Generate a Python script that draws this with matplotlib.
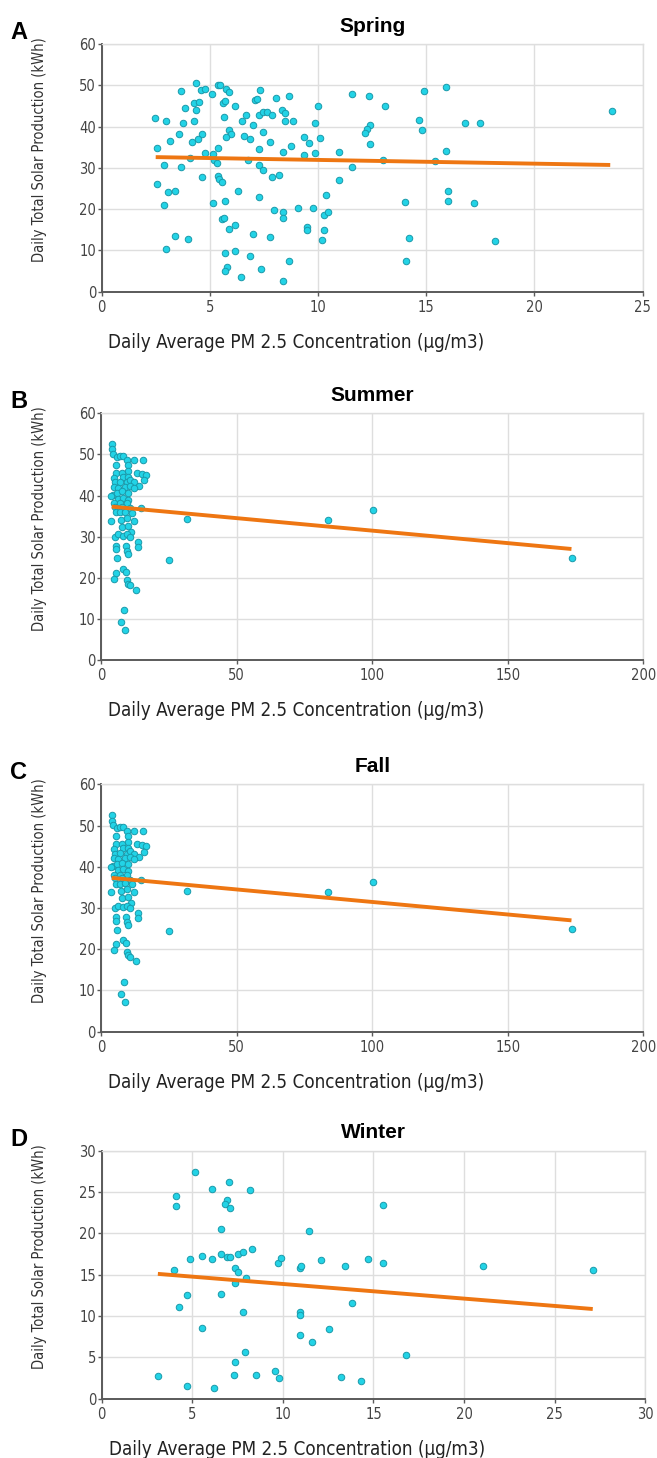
import matplotlib
matplotlib.use("Agg")
from matplotlib import pyplot as plt

# spring: PM2.5 (ug/m3) vs solar production (kWh)
springPm = [
    4.36, 3.67, 4.59, 4.80, 5.08, 5.39, 5.48, 5.77, 5.88, 7.34,
    5.62, 5.68, 4.26, 4.48, 3.86, 4.36, 6.17, 7.08, 7.17, 2.47,
    2.96, 3.77, 4.26, 5.67, 6.48, 6.67, 6.99, 7.27, 7.46, 7.66,
    5.88, 5.98, 5.77, 3.57, 4.65, 4.46, 4.16, 3.17, 2.56, 6.57,
    6.86, 7.48, 5.37, 7.27, 4.77, 5.16, 4.07, 5.20, 5.33, 6.77,
    2.86, 3.67, 7.27, 7.48, 4.66, 5.37, 5.43, 5.57, 2.56, 6.30,
    3.08, 3.37, 7.27, 2.86, 5.16, 5.68, 5.57, 5.67, 5.88, 6.17,
    6.99, 3.37, 3.97, 2.96, 5.68, 6.17, 6.86, 5.79, 5.68, 7.37,
    6.46,
    8.05, 8.68, 7.85, 8.35, 8.48, 8.48, 8.86, 10.0, 9.88, 11.59,
    12.37, 13.08, 12.39, 12.28, 12.17, 12.39, 14.88, 15.9, 14.68, 14.79,
    16.80, 17.50, 23.6, 7.77, 9.37, 9.57, 10.08, 8.77, 8.37, 9.37,
    9.88, 10.97, 15.9, 12.99, 15.39, 11.59, 7.85, 8.19, 10.97, 10.37,
    15.99, 15.99, 17.2, 14.0, 7.97, 8.37, 8.37, 9.08, 9.77, 10.28,
    10.48, 9.50, 9.50, 10.28, 10.17, 7.77, 14.19, 18.19, 8.68, 14.08,
    8.37,
]
springKwh = [
    50.6, 48.7, 48.8, 49.1, 47.9, 50.0, 50.0, 49.2, 48.4, 48.8,
    45.6, 46.3, 45.6, 46.0, 44.4, 44.1, 45.0, 46.4, 46.6, 42.0,
    41.3, 40.8, 41.4, 42.3, 41.4, 42.7, 40.3, 42.9, 43.5, 43.6,
    39.1, 38.1, 37.5, 38.3, 38.2, 37.1, 36.3, 36.5, 34.9, 37.7,
    37.0, 38.8, 34.9, 34.5, 33.5, 33.3, 32.4, 31.9, 31.2, 31.9,
    30.7, 30.1, 30.7, 29.5, 27.7, 28.1, 27.4, 26.6, 26.2, 24.5,
    24.1, 24.5, 22.9, 21.1, 21.4, 21.9, 17.6, 17.8, 15.2, 16.2,
    13.9, 13.5, 12.7, 10.4, 9.4, 9.8, 8.7, 6.1, 5.0, 5.5,
    3.6,
    46.8, 47.5, 42.8, 44.1, 43.3, 41.3, 41.3, 45.1, 40.8, 47.9,
    47.5, 45.0, 40.5, 39.5, 38.4, 35.8, 48.7, 49.5, 41.7, 39.1,
    40.8, 40.8, 43.8, 36.2, 37.4, 36.1, 37.2, 35.3, 33.9, 33.1,
    33.7, 33.9, 34.0, 32.0, 31.6, 30.3, 27.7, 28.3, 27.0, 23.5,
    24.5, 21.9, 21.5, 21.8, 19.8, 19.2, 17.8, 20.3, 20.3, 18.6,
    19.3, 15.7, 15.0, 14.9, 12.5, 13.2, 13.0, 12.2, 7.5, 7.4,
    2.7,
]

summerPm = [
    3.9, 3.9, 4.5, 5.8, 7.0, 7.9, 9.5, 10.1, 12.1, 15.4,
    5.4, 10.1, 13.2, 15.0, 16.5, 5.4, 7.6, 4.9, 8.2, 10.1,
    16.0, 5.2, 7.0, 9.5, 10.7, 12.3, 13.8, 4.9, 6.4, 8.9,
    10.7, 12.3, 4.5, 5.8, 7.6, 10.1, 3.7, 6.2, 8.2, 9.8,
    4.9, 7.0, 9.5, 5.2, 7.6, 10.7, 14.8, 5.4, 7.0, 8.9,
    11.3, 3.7, 7.4, 9.5, 12.0, 7.6, 10.1, 11.1, 31.6, 5.2,
    6.4, 7.9, 9.5, 10.7, 5.4, 5.4, 9.1, 9.5, 10.1, 13.5,
    13.5, 5.8, 25.1, 7.9, 9.1, 5.4, 4.8, 9.5, 10.1, 10.7,
    12.8, 8.6, 7.4, 8.9, 83.7, 100.3, 173.6,
]
summerKwh = [
    52.6, 51.2, 50.1, 49.3, 49.7, 49.6, 48.7, 47.5, 48.7, 48.6,
    47.4, 46.0, 45.6, 45.2, 45.1, 45.5, 45.5, 44.3, 44.5, 44.5,
    43.7, 43.2, 43.4, 43.2, 43.8, 43.2, 42.4, 42.1, 41.8, 42.1,
    42.4, 41.8, 40.2, 40.6, 41.0, 40.6, 39.9, 39.1, 39.4, 39.0,
    38.1, 38.1, 38.1, 37.2, 37.3, 36.9, 36.9, 35.9, 35.9, 36.1,
    35.7, 33.9, 34.1, 34.5, 33.9, 32.4, 32.6, 31.2, 34.2, 30.0,
    30.6, 30.2, 30.6, 30.0, 27.7, 26.9, 27.7, 26.6, 25.9, 28.8,
    27.5, 24.7, 24.4, 22.2, 21.4, 21.2, 19.8, 19.4, 18.6, 18.2,
    17.1, 12.1, 9.2, 7.2, 34.0, 36.4, 24.9,
]

# the fall panel of the reference shows the same points as summer
fallPm = list(summerPm)
fallKwh = list(summerKwh)

winterPm = [
    5.17, 7.0, 6.1, 8.2, 4.09, 4.09, 6.9, 6.8, 7.09, 6.59,
    6.59, 5.51, 4.9, 6.1, 6.9, 7.09, 7.5, 7.79, 8.29, 9.72,
    9.91, 4.0, 7.38, 7.5, 7.99, 7.38, 4.7, 6.59, 4.29, 7.79,
    5.51, 7.9, 7.38, 3.08, 7.29, 8.49, 9.59, 9.78, 4.7, 6.17,
    15.52, 11.42, 10.92, 11.01, 12.1, 13.4, 14.71, 15.52, 21.03, 27.13,
    13.81, 10.92, 10.92, 10.92, 11.6, 12.52, 16.81, 13.2, 14.31,
]
winterKwh = [
    27.4, 26.2, 25.4, 25.2, 24.5, 23.3, 24.0, 23.5, 23.1, 20.5,
    17.5, 17.3, 16.9, 16.9, 17.1, 17.1, 17.5, 17.7, 18.1, 16.4,
    17.0, 15.6, 15.8, 15.3, 14.6, 14.0, 12.5, 12.7, 11.1, 10.5,
    8.6, 5.7, 4.4, 2.8, 2.9, 2.9, 3.3, 2.5, 1.5, 1.25,
    23.4, 20.3, 15.8, 16.0, 16.8, 16.1, 16.9, 16.4, 16.1, 15.6,
    11.6, 10.5, 10.1, 7.7, 6.9, 8.4, 5.3, 2.6, 2.1,
]

# trend line ends
springFitX = [2.5, 23.5]
springFitY = [32.6, 30.7]
summerFitX = [3.9, 173.5]
summerFitY = [37.3, 27.0]
fallFitX = [3.9, 173.5]
fallFitY = [37.3, 27.0]
winterFitX = [3.1, 27.1]
winterFitY = [15.1, 10.85]

panelLetters = ["A", "B", "C", "D"]
panelTitles = ["Spring", "Summer", "Fall", "Winter"]
xTicksList = [
    [0, 5, 10, 15, 20, 25],
    [0, 50, 100, 150, 200],
    [0, 50, 100, 150, 200],
    [0, 5, 10, 15, 20, 25, 30],
]
yTicksList = [
    [0, 10, 20, 30, 40, 50, 60],
    [0, 10, 20, 30, 40, 50, 60],
    [0, 10, 20, 30, 40, 50, 60],
    [0, 5, 10, 15, 20, 25, 30],
]
xLabel = "Daily Average PM 2.5 Concentration (µg/m3)"
yLabel = "Daily Total Solar Production (kWh)"

W, H = 657, 1458
# axes boxes in pixels: left, top, right, bottom
axesBoxes = [
    (101.6, 44.0, 642.7, 291.7),
    (101.1, 413.3, 643.3, 660.0),
    (101.1, 784.3, 643.3, 1031.7),
    (101.7, 1150.7, 645.3, 1398.7),
]

dotFace = "#22d3e6"
dotEdge = "#1a9aab"
lineColor = "#ee7612"
gridColor = "#dedede"
axisColor = "#5a5a5a"
textColor = "#444444"
labelFont = {"family": "DejaVu Sans", "stretch": "condensed"}


def drawPanel(fig, box, letter, title, pm, kwh, fitX, fitY, xTicks, yTicks):
    left, top, right, bottom = box
    ax = fig.add_axes([left / W, 1 - bottom / H, (right - left) / W, (bottom - top) / H])
    ax.grid(True, color=gridColor, linewidth=1)
    ax.set_axisbelow(True)
    ax.scatter(pm, kwh, s=22, facecolor=dotFace, edgecolor=dotEdge, linewidth=0.7, zorder=3)
    ax.plot(fitX, fitY, color=lineColor, linewidth=2.8, solid_capstyle="butt", zorder=4)

    ax.set_xlim(xTicks[0], xTicks[-1])
    ax.set_ylim(yTicks[0], yTicks[-1])
    ax.set_xticks(xTicks)
    ax.set_yticks(yTicks)
    for side in ["top", "right"]:
        ax.spines[side].set_color(gridColor)
        ax.spines[side].set_linewidth(1)
    for side in ["left", "bottom"]:
        ax.spines[side].set_color(axisColor)
        ax.spines[side].set_linewidth(1.4)
    ax.tick_params(axis="both", direction="out", length=3, width=1, color=axisColor,
                   labelcolor=textColor, labelsize=10.5)
    ax.tick_params(axis="y", pad=1)
    ax.tick_params(axis="x", pad=3)
    for lab in ax.get_xticklabels() + ax.get_yticklabels():
        lab.set_fontfamily("DejaVu Sans")
        lab.set_fontstretch("condensed")

    ax.set_xlabel(xLabel, fontsize=13.5, color="#222222", **labelFont)
    ax.xaxis.set_label_coords(0.36, -0.165)
    ax.set_ylabel(yLabel, fontsize=10.5, color="#333333", **labelFont)
    ax.yaxis.set_label_coords(-0.1, 0.572)

    ax.set_title(title, fontsize=15, fontweight="bold", family="Liberation Sans", pad=9)
    fig.text(10 / W, 1 - (top - 5) / H, letter, fontsize=17, fontweight="bold",
             family="Liberation Sans", va="baseline", ha="left")
    return ax


fig = plt.figure(figsize=(W / 100, H / 100), dpi=100)
allPm = [springPm, summerPm, fallPm, winterPm]
allKwh = [springKwh, summerKwh, fallKwh, winterKwh]
allFitX = [springFitX, summerFitX, fallFitX, winterFitX]
allFitY = [springFitY, summerFitY, fallFitY, winterFitY]
for i in range(4):
    drawPanel(fig, axesBoxes[i], panelLetters[i], panelTitles[i], allPm[i], allKwh[i],
              allFitX[i], allFitY[i], xTicksList[i], yTicksList[i])

fig.savefig("out.png", dpi=100)
